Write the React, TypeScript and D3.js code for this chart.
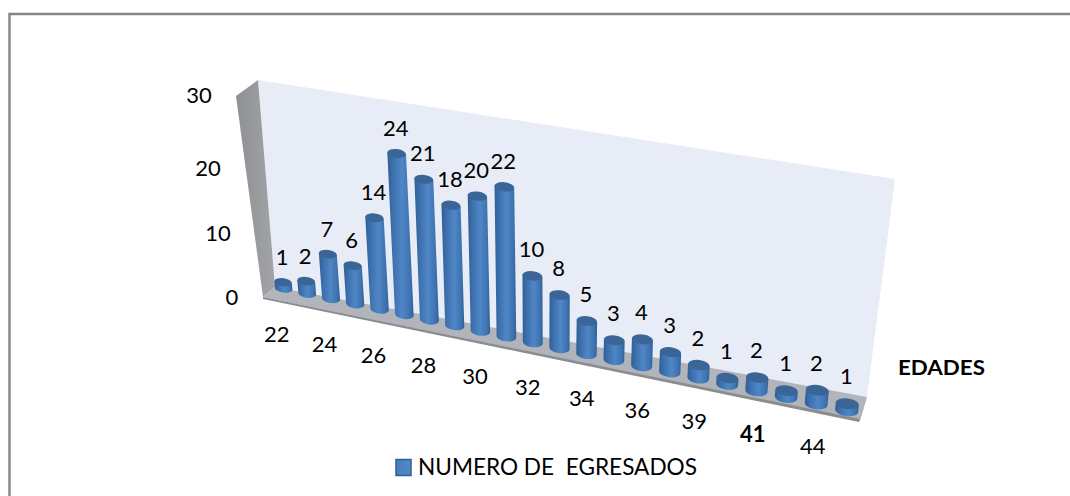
import React from "react";
import * as d3 from "d3";

const ages = ["22","23","24","25","26","27","28","29","30","31","32","33","34","35","36","37","39","40","41","42","44","45"];
const egresados = [1,2,7,6,14,24,21,18,20,22,10,8,5,3,4,3,2,1,2,1,2,1];
const shownAges = ["22","24","26","28","30","32","34","36","39","41","44"];
const valueTicks = [0,10,20,30];
const seriesName = "NUMERO DE  EGRESADOS";
const axisTitle = "EDADES";

const W = 1070, H = 496;
type P = [number, number];

function homography(q: P[]) {
  const [[x0,y0],[x1,y1],[x2,y2],[x3,y3]] = q;
  const dx1=x1-x2, dx2=x3-x2, sx=x0-x1+x2-x3;
  const dy1=y1-y2, dy2=y3-y2, sy=y0-y1+y2-y3;
  const den=dx1*dy2-dx2*dy1;
  const g=(sx*dy2-dx2*sy)/den, h=(dx1*sy-sx*dy1)/den;
  const a=x1-x0+g*x1, b=x3-x0+h*x3, c=x0;
  const d=y1-y0+g*y1, e=y3-y0+h*y3, f=y0;
  return (u:number,v:number):P=>{
    const w=g*u+h*v+1;
    return [(a*u+b*v+c)/w,(d*u+e*v+f)/w];
  };
}

// plane through the middle of the bars
const project = homography([[272,286],[862,414],[886,192],[254,87]]);
const uScale = d3.scaleBand<string>().domain(ages).range([0,1]);
const vScale = d3.scaleLinear().domain([0,30]).range([0,1]);
const pts = (a:P[]) => a.map(p=>p.join(",")).join(" ");

const tickY = d3.scaleLinear().domain([0,10,20,30]).range([297,233,168,95]);
const tickX = d3.scaleLinear().domain([0,10,20,30]).range([232,218,208,199]);

const FONT = "Lato, 'Liberation Sans', sans-serif";

export default function App(){
  const band = uScale.bandwidth();
  return (
    <svg width={W} height={H} viewBox={`0 0 ${W} ${H}`} style={{position:"absolute",left:0,top:0,background:"#fff"}} fontFamily={FONT} fill="#000">
      <defs>
        <linearGradient id="cyl" x1="0" x2="1" y1="0" y2="0">
          <stop offset="0" stopColor="#2f5f96"/>
          <stop offset="0.22" stopColor="#3d70ad"/>
          <stop offset="0.55" stopColor="#4f86c6"/>
          <stop offset="0.85" stopColor="#3f74b2"/>
          <stop offset="1" stopColor="#2f5f96"/>
        </linearGradient>
        <linearGradient id="side" x1="0" x2="1" y1="0" y2="0">
          <stop offset="0" stopColor="#8f9093"/>
          <stop offset="1" stopColor="#a3a4a7"/>
        </linearGradient>
        <linearGradient id="leg" x1="0" x2="1" y1="0" y2="0">
          <stop offset="0" stopColor="#4a7db8"/>
          <stop offset="1" stopColor="#5388c6"/>
        </linearGradient>
      </defs>
      <path d={`M9.5 ${H} V14 H${W}`} fill="none" stroke="#868686" strokeWidth={2.4}/>
      {/* walls and floor */}
      <polygon points={pts([[258,80],[895,179],[867,397],[275,287]])} fill="#e8ecf6"/>
      <polygon points={pts([[236,96],[258,80],[275,287],[263,297]])} fill="url(#side)"/>
      <polygon points={pts([[263,297],[275,287],[867,397],[860,420]])} fill="#b1b4ba"/>
      <polygon points={pts([[263,297],[860,419],[859,422],[263,299]])} fill="#8b8c8f"/>
      <polygon points={pts([[867,397],[860,420],[859,422],[866,400]])} fill="#8b8c8f"/>
      {/* cylinders */}
      {ages.map((age,i)=>{
        const u=(uScale(age) as number)+band/2;
        const [bx,by]=project(u,0);
        const [tx,ty]=project(u,vScale(egresados[i]));
        const [lx,ly]=project(u-band*0.37,0);
        const [rx0,ry0]=project(u+band*0.37,0);
        const rx=Math.hypot(rx0-lx,ry0-ly)/2;
        const ry=rx*0.46;
        const ang=Math.atan2(ry0-ly,rx0-lx)*0.6;
        const deg=ang*180/Math.PI;
        const cx=Math.cos(ang)*rx, cy=Math.sin(ang)*rx;
        const body=`M${bx-cx} ${by-cy} L${tx-cx} ${ty-cy} L${tx+cx} ${ty+cy} L${bx+cx} ${by+cy} A${rx} ${ry} ${deg} 0 1 ${bx-cx} ${by-cy} Z`;
        return (
          <g key={age}>
            <path d={body} fill="url(#cyl)"/>
            <ellipse cx={tx} cy={ty} rx={rx} ry={ry} transform={`rotate(${deg} ${tx} ${ty})`} fill="#3a6596"/>
          </g>
        );
      })}
      {/* data labels */}
      {ages.map((age,i)=>{
        const u=(uScale(age) as number)+band/2;
        const [tx,ty]=project(u,vScale(egresados[i]));
        return <text key={age} x={tx-1} y={ty-17-3*u} textAnchor="middle" fontSize={22}>{egresados[i]}</text>;
      })}
      {/* category labels */}
      {shownAges.map(age=>{
        const u=(uScale(age) as number)+band/2;
        const [bx,by]=project(u,0);
        return <text key={age} x={bx-7+4*u} y={by+54-4*u} textAnchor="middle" fontSize={22} fontWeight={age==="41"?700:400}>{age}</text>;
      })}
      {/* value axis */}
      {valueTicks.map(t=>(
        <text key={t} x={tickX(t)} y={tickY(t)+8} textAnchor="middle" fontSize={22}>{t}</text>
      ))}
      <text x={898} y={375} fontSize={20} fontWeight={700} textLength={87} lengthAdjust="spacingAndGlyphs">{axisTitle}</text>
      {/* legend */}
      <rect x={396} y={459.5} width={15} height={16} fill="url(#leg)" stroke="#2f5f96" strokeWidth={1.5}/>
      <text x={418} y={475} fontSize={23} xmlSpace="preserve" textLength={279} lengthAdjust="spacingAndGlyphs">{seriesName}</text>
    </svg>
  );
}
